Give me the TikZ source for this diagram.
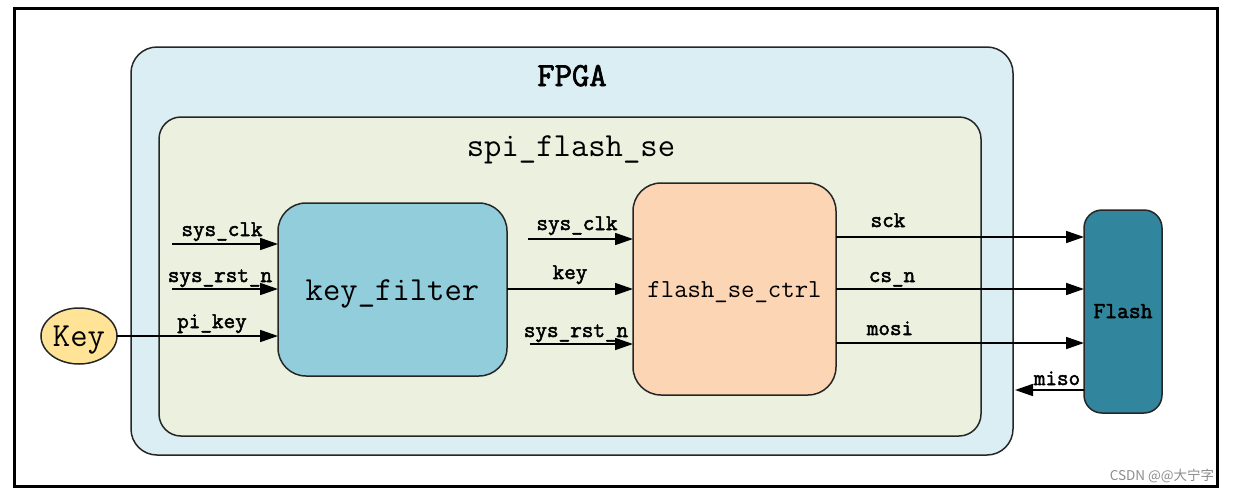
\documentclass[tikz,border=0pt]{standalone}
\usepackage{fontspec}
\usetikzlibrary{arrows.meta,shapes.geometric}
\newfontfamily\cjkf{Noto Sans CJK SC}
\newfontfamily\boldmono[FakeBold=2.2]{Latin Modern Mono}
\newcommand{\monof}{\ttfamily}
\definecolor{fpgafill}{HTML}{DAEEF3}
\definecolor{spifill}{HTML}{EBF1DE}
\definecolor{kffill}{HTML}{92CDDC}
\definecolor{fscfill}{HTML}{FCD5B5}
\definecolor{flashfill}{HTML}{31859C}
\definecolor{keyfill}{HTML}{FFE497}
\definecolor{bordercol}{HTML}{262626}
\begin{document}
\begin{tikzpicture}[x=1pt,y=-1pt,
  box/.style={draw=bordercol, line width=1.5pt, inner sep=0pt, outer sep=0pt},
  sig/.style={draw=black, line width=1.7pt, -{Triangle[length=18pt,width=12pt]}},
  lbl/.style={anchor=base, inner sep=0pt, font=\boldmono\fontsize{22.5}{23}\selectfont},
  big/.style={anchor=base, inner sep=0pt, font=\monof\fontsize{33.7}{34}\selectfont}
]
\useasboundingbox (0,0) rectangle (1235,493);
\draw[line width=3pt] (14,8) rectangle (1217,486);

% containers
\node[box, fill=fpgafill, rounded corners=26pt, minimum width=882pt, minimum height=408pt] (fpga) at (572,251) {};
\node[box, fill=spifill, rounded corners=22pt, minimum width=822pt, minimum height=319pt] (spi) at (570,276.5) {};
\node[big, font=\boldmono\fontsize{33.7}{34}\selectfont] (fpgalbl) at (572,86) {FPGA};
\node[big] (spilbl) at (571,156) {spi\_flash\_se};

% blocks
\node[box, fill=kffill, rounded corners=28pt, minimum width=229pt, minimum height=173pt] (kf) at (392.5,289.5) {};
\node[big] (kflbl) at (392.5,300) {key\_filter};
\node[box, fill=fscfill, rounded corners=28pt, minimum width=203pt, minimum height=212pt] (fsc) at (734.5,289) {};
\node[anchor=base, inner sep=0pt, font=\monof\fontsize{26}{26}\selectfont] (fsclbl) at (734.5,297) {flash\_se\_ctrl};
\node[box, fill=flashfill, rounded corners=18pt, minimum width=78pt, minimum height=203pt] (flash) at (1123,311.5) {};
\node[anchor=base, inner sep=0pt, font=\boldmono\fontsize{22.9}{23}\selectfont] (flashlbl) at (1123,318) {Flash};
\node[box, ellipse, fill=keyfill, minimum width=76pt, minimum height=56pt] (key) at (79,336) {};
\node[big] (keylbl) at (79,346) {Key};

% free ends
\coordinate (a1) at (172,244);
\coordinate (a2) at (172,289);
\coordinate (b1) at (528,239);
\coordinate (b3) at (530,344);
\coordinate (r1) at (0,237);
\coordinate (r2) at (0,289);
\coordinate (r3) at (0,343);
\coordinate (m1) at (1015,390);

% inputs of key_filter
\draw[sig] (a1) -- (a1 -| kf.west);
\draw[sig] (a2) -- (a2 -| kf.west);
\draw[sig] (key.east) -- (key.east -| kf.west);
\node[lbl] (l1) at (222,236) {sys\_clk};
\node[lbl] (l2) at (220,282) {sys\_rst\_n};
\node[lbl] (l3) at (212,328) {pi\_key};

% inputs of flash_se_ctrl
\draw[sig] (b1) -- (b1 -| fsc.west);
\draw[sig] (kf.east |- r2) -- (fsc.west |- r2);
\draw[sig] (b3) -- (b3 -| fsc.west);
\node[lbl] (l4) at (577,230) {sys\_clk};
\node[lbl] (l5) at (570,279) {key};
\node[lbl] (l6) at (576,337) {sys\_rst\_n};

% flash interface
\draw[sig] (fsc.east |- r1) -- (flash.west |- r1);
\draw[sig] (fsc.east |- r2) -- (flash.west |- r2);
\draw[sig] (fsc.east |- r3) -- (flash.west |- r3);
\draw[sig] (flash.west |- m1) -- (m1);
\node[lbl] (l7) at (888,227) {sck};
\node[lbl] (l8) at (892,282) {cs\_n};
\node[lbl] (l9) at (890,335) {mosi};
\node[lbl] (l10) at (1057,385) {miso};

% watermark
\node[anchor=base, inner sep=0pt, text=black!45, font=\cjkf\fontsize{13.5}{14}\selectfont] (wm) at (1162,480) {CSDN @@大宁字};
\end{tikzpicture}
\end{document}
